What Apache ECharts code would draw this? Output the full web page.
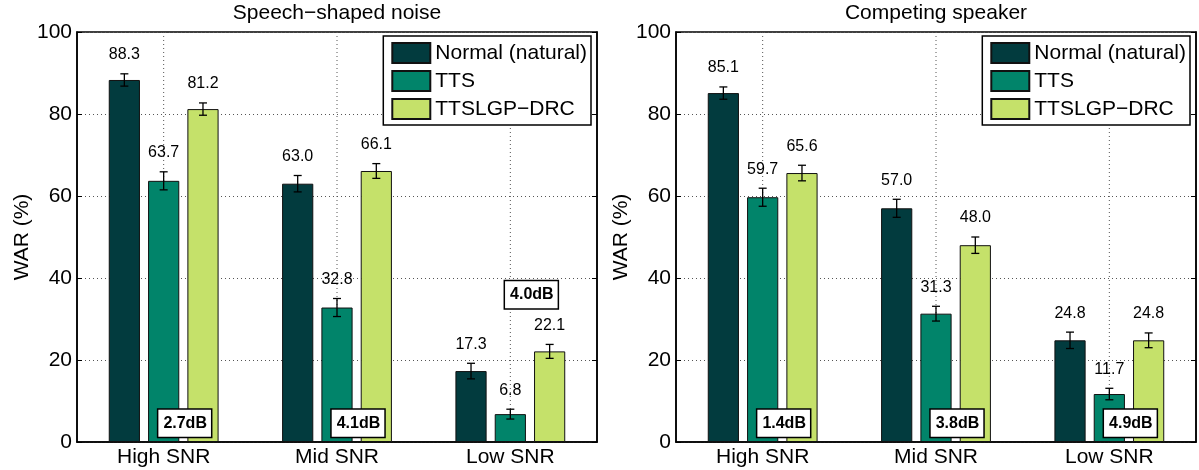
<!DOCTYPE html>
<html>
<head>
<meta charset="utf-8">
<script src="https://cdn.jsdelivr.net/npm/echarts@6/dist/echarts.min.js"></script>
<style>html,body{margin:0;padding:0;background:#fff}#c{width:1199px;height:470px}</style>
</head>
<body>
<div id="c"></div>
<script>
// ---- data ----
const categories = ['High SNR', 'Mid SNR', 'Low SNR'];
const seriesNames = ['Normal (natural)', 'TTS', 'TTSLGP\u2212DRC'];
const panelTitles = ['Speech\u2212shaped noise', 'Competing speaker'];
const yAxisName = 'WAR (%)';

const noiseNormal = [88.3, 63.0, 17.3];
const noiseTTS = [63.7, 32.8, 6.8];
const noiseDRC = [81.2, 66.1, 22.1];
const noiseNormalErr = [1.5, 2.0, 1.9];
const noiseTTSErr = [2.2, 2.2, 1.2];
const noiseDRCErr = [1.5, 1.8, 1.7];
const noiseGain = ['2.7dB', '4.1dB', '4.0dB'];

const speakerNormal = [85.1, 57.0, 24.8];
const speakerTTS = [59.7, 31.3, 11.7];
const speakerDRC = [65.6, 48.0, 24.8];
const speakerNormalErr = [1.5, 2.2, 2.0];
const speakerTTSErr = [2.2, 1.8, 1.4];
const speakerDRCErr = [1.9, 2.0, 1.8];
const speakerGain = ['1.4dB', '3.8dB', '4.9dB'];

const yMin = 0, yMax = 100, yStep = 20;

// ---- styling / layout ----
const FONT = '"Liberation Sans", Arial, Helvetica, sans-serif';
const colors = ['#023B3E', '#01846A', '#C5E16A'];
const BAR_W = 0.18, BAR_GAP = 0.26;
// annotation anchor heights (in data units) for the dB boxes
const noiseGainY = [4.6, 4.6, 35.9];
const speakerGainY = [4.6, 4.6, 4.6];

const panels = [
  { vals: [noiseNormal, noiseTTS, noiseDRC], errs: [noiseNormalErr, noiseTTSErr, noiseDRCErr], gain: noiseGain, gainY: noiseGainY },
  { vals: [speakerNormal, speakerTTS, speakerDRC], errs: [speakerNormalErr, speakerTTSErr, speakerDRCErr], gain: speakerGain, gainY: speakerGainY }
];
const gridLeft = [77, 676];
const gridW = 520;
const dotted = { color: '#555', type: [1, 3], width: 1 };

function makeErr(k) {
  return function (params, api) {
    const ci = api.value(0), v = api.value(1), e = api.value(2);
    const band = api.size([1, 0])[0];
    const bw = band * BAR_W;
    const off = (k - 1) * bw * (1 + BAR_GAP);
    const x = api.coord([ci, v])[0] + off;
    const yt = api.coord([ci, v + e])[1];
    const yb = api.coord([ci, v - e])[1];
    const cap = 4;
    const ls = { stroke: '#000', lineWidth: 1.3 };
    return {
      type: 'group',
      children: [
        { type: 'line', shape: { x1: x, y1: yt, x2: x, y2: yb }, style: ls },
        { type: 'line', shape: { x1: x - cap, y1: yt, x2: x + cap, y2: yt }, style: ls },
        { type: 'line', shape: { x1: x - cap, y1: yb, x2: x + cap, y2: yb }, style: ls },
        { type: 'text', x: x, y: yt - 11, style: { text: v.toFixed(1), fill: '#000', font: '16px ' + FONT, align: 'center', verticalAlign: 'bottom' } }
      ]
    };
  };
}

function vGrid(params, api) {
  const ci = api.value(0);
  const p1 = api.coord([ci, yMax]), p2 = api.coord([ci, yMin]);
  return { type: 'line', shape: { x1: p1[0], y1: p1[1], x2: p2[0], y2: p2[1] },
    style: { stroke: dotted.color, lineWidth: 1, lineDash: dotted.type } };
}

const grid = [], xAxis = [], yAxis = [], series = [], title = [], legend = [];
panels.forEach((p, gi) => {
  const yi = gi * 2;
  grid.push({ left: gridLeft[gi], width: gridW, top: 32, height: 410, show: true, borderColor: '#000', borderWidth: 1.5, backgroundColor: 'transparent' });
  xAxis.push({
    type: 'category', gridIndex: gi, data: categories,
    axisLine: { lineStyle: { color: '#000', width: 1.5 } },
    axisTick: { show: false },
    axisLabel: { color: '#000', fontSize: 21, fontFamily: FONT, margin: 5 },
    splitLine: { show: false }
  });
  yAxis.push({
    type: 'value', gridIndex: gi, min: yMin, max: yMax, interval: yStep,
    name: yAxisName, nameLocation: 'middle', nameGap: 44,
    nameTextStyle: { color: '#000', fontSize: 21, fontFamily: FONT },
    axisLine: { show: true, lineStyle: { color: '#000', width: 1.5 } },
    axisTick: { show: true, inside: true, length: 5, lineStyle: { color: '#000' } },
    axisLabel: { color: '#000', fontSize: 21, fontFamily: FONT, margin: 5 },
    splitLine: { show: true, lineStyle: dotted }
  });
  yAxis.push({
    type: 'value', gridIndex: gi, min: yMin, max: yMax, interval: yStep, position: 'right',
    axisLine: { show: true, lineStyle: { color: '#000', width: 1.5 } },
    axisTick: { show: true, inside: true, length: 5, lineStyle: { color: '#000' } },
    axisLabel: { show: false },
    splitLine: { show: false }
  });
  title.push({
    text: panelTitles[gi], left: gridLeft[gi] + gridW / 2, top: 3, textAlign: 'center', padding: 0,
    textStyle: { color: '#000', fontSize: 21, fontWeight: 'normal', fontFamily: FONT }
  });
  legend.push({
    data: seriesNames, orient: 'vertical', right: gi === 0 ? 608 : 9, top: 36,
    itemWidth: 38, itemHeight: 20, itemGap: 6, padding: [6, 4, 5, 8],
    borderColor: '#000', borderWidth: 1.5, backgroundColor: '#fff', icon: 'rect',
    textStyle: { color: '#000', fontSize: 21, fontFamily: FONT }
  });
  series.push({
    type: 'custom', xAxisIndex: gi, yAxisIndex: yi, silent: true, z: 1,
    renderItem: vGrid, data: categories.map((c, i) => [i])
  });
  p.vals.forEach((vals, k) => {
    const s = {
      type: 'bar', name: seriesNames[k], xAxisIndex: gi, yAxisIndex: yi,
      data: vals, barWidth: (BAR_W * 100) + '%', barGap: (BAR_GAP * 100) + '%',
      itemStyle: { color: colors[k], borderColor: '#111', borderWidth: 1 },
      emphasis: { disabled: true }, z: 2
    };
    if (k === 1) {
      s.markPoint = {
        silent: true,
        symbol: 'rect', symbolSize: 1,
        itemStyle: { color: 'rgba(0,0,0,0)' },
        label: {
          show: true, position: 'inside', offset: [21, 0], formatter: '{c}',
          color: '#000', fontSize: 16, fontWeight: 'bold', fontFamily: FONT,
          backgroundColor: '#fff', borderColor: '#000', borderWidth: 1.5,
          padding: [5, 4, 4, 5], lineHeight: 18
        },
        data: p.gain.map((g, i) => ({ coord: [i, p.gainY[i]], value: g }))
      };
    }
    series.push(s);
  });
  p.vals.forEach((vals, k) => {
    series.push({
      type: 'custom', xAxisIndex: gi, yAxisIndex: yi, silent: true, z: 4,
      renderItem: makeErr(k),
      data: vals.map((v, i) => [i, v, p.errs[k][i]])
    });
  });
});

const chart = echarts.init(document.getElementById('c'), null, { renderer: 'canvas' });
chart.setOption({
  animation: false,
  backgroundColor: '#fff',
  textStyle: { fontFamily: FONT },
  title, legend, grid, xAxis, yAxis, series
});
</script>
</body>
</html>
